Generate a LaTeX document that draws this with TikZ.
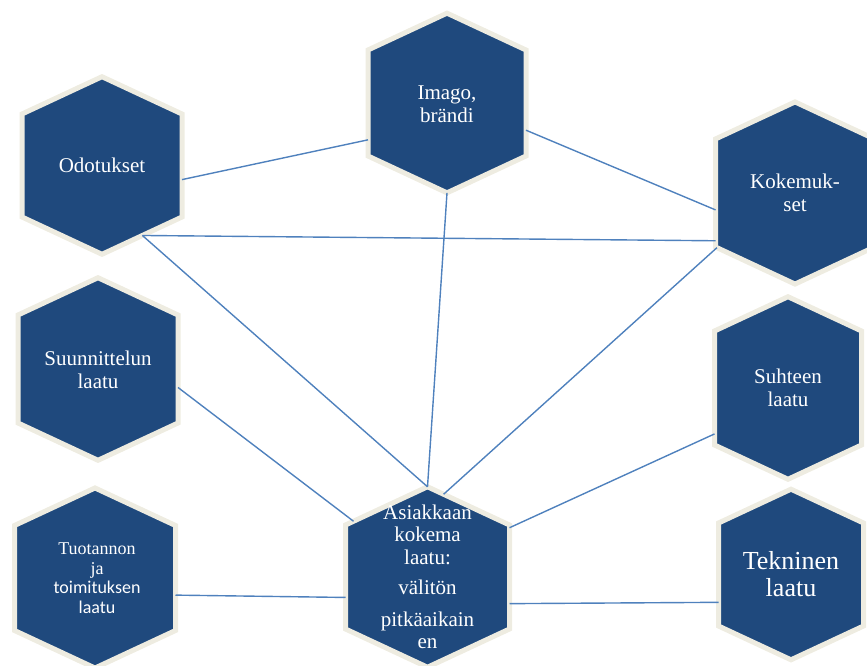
\documentclass[tikz,border=0pt]{standalone}
\usepackage{fontspec}
\setmainfont{Liberation Serif}
\newfontfamily\calibri{Carlito}
\usetikzlibrary{shapes.symbols}
\definecolor{hexblue}{HTML}{1F497D}
\definecolor{hexrim}{HTML}{EEECE1}
\definecolor{linkblue}{HTML}{4F81BD}

\begin{document}
\begin{tikzpicture}[x=1pt,y=-1pt,
    hexa/.style 2 args={signal,signal to=north and south,signal pointer angle=130,
      minimum width=#1,minimum height=#2,
      inner sep=0pt,outer sep=0pt,fill=hexblue,draw=hexrim,line width=5pt},
    hextext/.style={text=white,align=center,font=\fontsize{21}{23}\selectfont},
    link/.style={linkblue,line width=1.4pt}
    ]
    \useasboundingbox (0,0) rectangle (867,666);
    \clip (0,0) rectangle (867,666);

    \node[hexa={158pt}{106pt}] (imago) at (447,103) {};
    \node[hexa={160pt}{103pt}] (odo) at (102,165.5) {};
    \node[hexa={159pt}{108pt}] (koke) at (795,193) {};
    \node[hexa={160pt}{108pt}] (suun) at (98,369) {};
    \node[hexa={147pt}{114pt}] (suht) at (788,388) {};
    \node[hexa={161pt}{105pt}] (tuot) at (95,578) {};
    \node[hexa={164pt}{104pt}] (asiak) at (427.5,577) {};
    \node[hexa={145pt}{103pt}] (tekn) at (791,574.5) {};

    \node[hextext] at ([yshift=-1pt]imago) {Imago,\\brändi};
    \node[hextext] at (odo) {Odotukset};
    \node[hextext] at (koke) {Kokemuk-\\set};
    \node[hextext] at ([yshift=-1pt]suun) {Suunnittelun\\laatu};
    \node[hextext] at (suht) {Suhteen\\laatu};
    \node[hextext,font=\fontsize{18}{19.5}\selectfont] at ([xshift=2pt]tuot)
      {Tuotannon\\ja\\{\calibri toimituksen}\\{\calibri laatu}};
    \node[hextext,font=\fontsize{26}{27}\selectfont] at (tekn) {Tekninen\\laatu};
    \node[hextext,font=\fontsize{21}{22.5}\selectfont] at (asiak)
      {Asiakkaan\\kokema\\laatu:\\[7.5pt]välitön\\[9.5pt]pitkäaikain\\en};

    \draw[link] (odo.-10.6) -- (imago.205.9);
    \draw[link] (imago.-19.7) -- (koke.192.8);
    \draw[link] (odo.-60.6) -- (koke.211.9);
    \draw[link] (odo.-60.6) -- (asiak.90);
    \draw[link] (imago.270) -- (asiak.90);
    \draw[link] (koke.215.5) -- (asiak.79.3);
    \draw[link] (suun.-13.9) -- (asiak.143.6);
    \draw[link] (suht.212.2) -- (asiak.31.9);
    \draw[link] (tuot.-12.3) -- (asiak.194.8);
    \draw[link] (tekn.201.3) -- (asiak.-18.7);
\end{tikzpicture}
\end{document}
